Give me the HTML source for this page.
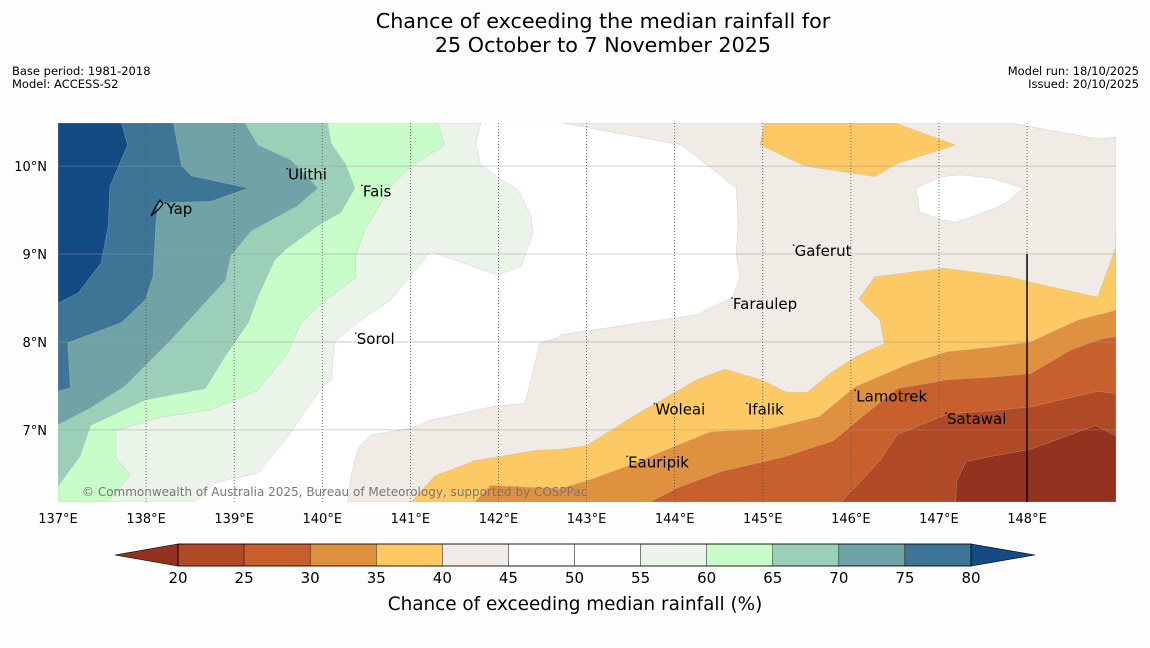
<!DOCTYPE html>
<html><head><meta charset="utf-8"><style>
body{margin:0;background:#fdfdfd;font-family:"DejaVu Sans","Liberation Sans",sans-serif;}
svg text{font-family:"DejaVu Sans","Liberation Sans",sans-serif;}
</style></head><body>
<svg id="chart" width="1150" height="644" viewBox="0 0 1150 644" xmlns="http://www.w3.org/2000/svg">
<rect x="0" y="0" width="1150" height="644" fill="#fdfdfd"/>
<text x="603" y="28" font-size="20.7" text-anchor="middle" fill="#000">Chance of exceeding the median rainfall for</text>
<text x="603" y="52" font-size="20.7" text-anchor="middle" fill="#000">25 October to 7 November 2025</text>
<text x="12" y="75" font-size="11.5">Base period: 1981-2018</text>
<text x="12" y="88" font-size="11.5">Model: ACCESS-S2</text>
<text x="1139" y="75" font-size="11.5" text-anchor="end">Model run: 18/10/2025</text>
<text x="1139" y="88" font-size="11.5" text-anchor="end">Issued: 20/10/2025</text>
<defs><clipPath id="plotclip"><rect x="58" y="123" width="1058" height="379"/></clipPath></defs>
<g id="map" clip-path="url(#plotclip)">
<rect x="58" y="123" width="1058" height="379" fill="#ffffff"/>
</g>
<g id="overlay"></g>
<g id="cbar"></g>
<text x="575" y="610" font-size="18.4" text-anchor="middle">Chance of exceeding median rainfall (%)</text>
</svg>
<script>
// Map extent (degrees)
const lonRange = [137, 149.01];
const latRange = [6.18, 10.49];
const lonTicks = [137,138,139,140,141,142,143,144,145,146,147,148];
const latTicks = [7,8,9,10];
// Contour regions (lon, lat pairs) and their category
const regionLevels = ["55-60","60-65","65-70","70-75","75-80",">80","40-45","45-50","35-40","35-40","30-35","25-30","20-25","<20"];
const regionColors = ["#eaf4e9","#c8fcc8","#9ccfb8","#6fa3a6","#3d7597","#134b85","#f0ebe5","#ffffff","#fdc964","#fdc964","#e0913f","#c8602e","#b04a26","#943220"];
const region55 = [[141.80,10.49],[141.74,10.26],[141.80,10.0],[142.22,9.73],[142.37,9.43],[142.39,9.24],[142.26,8.86],[141.99,8.76],[141.23,9.03],[140.78,8.48],[140.52,8.31],[140.14,8.01],[140.10,7.57],[139.99,7.48],[139.64,6.97],[139.27,6.51],[138.78,6.40],[138.56,6.18],[137,6.18],[137,10.49]];
const region60 = [[141.31,10.49],[141.39,10.24],[141.01,10.0],[140.78,9.77],[140.48,9.27],[140.38,8.98],[140.38,8.73],[139.99,8.44],[139.76,8.22],[139.61,7.88],[139.27,7.45],[138.74,7.23],[138.14,7.14],[137.65,6.99],[137.65,6.70],[137.82,6.49],[137.57,6.18],[137,6.18],[137,10.49]];
const region65 = [[140.06,10.49],[140.10,10.26],[140.26,10.03],[140.37,9.75],[140.21,9.47],[139.99,9.35],[139.58,9.05],[139.46,8.93],[139.27,8.52],[139.16,8.22],[138.90,7.84],[138.67,7.47],[137.99,7.34],[137.37,7.05],[137.25,6.70],[137,6.36],[137,10.49]];
const region70 = [[139.12,10.49],[139.27,10.24],[139.64,10.07],[139.95,9.75],[139.72,9.55],[139.19,9.26],[138.96,8.98],[138.90,8.70],[138.59,8.36],[138.25,7.99],[137.76,7.50],[137.37,7.25],[137,7.06],[137,10.49]];
const region75 = [[138.31,10.49],[138.40,10.01],[138.51,9.89],[139.16,9.75],[138.74,9.60],[138.14,9.58],[138.11,9.35],[138.08,8.75],[137.99,8.48],[137.72,8.22],[137.11,7.99],[137.14,7.48],[137,7.44],[137,10.49]];
const region80 = [[137.72,10.49],[137.79,10.24],[137.59,9.77],[137.57,9.32],[137.49,8.90],[137.23,8.56],[137,8.44],[137,10.49]];
const region45 = [[142.73,10.49],[144.08,10.24],[144.70,9.75],[144.72,9.35],[144.70,8.99],[144.74,8.74],[144.66,8.51],[144.25,8.31],[142.70,8.08],[142.68,8.05],[142.47,7.99],[142.37,7.57],[142.30,7.30],[141.96,7.27],[141.23,7.11],[141.01,7.02],[140.55,6.94],[140.41,6.80],[140.33,6.49],[140.29,6.18],[149.01,6.18],[149.01,10.33],[148.80,10.31],[147.81,10.49]];
const region45w = [[146.74,9.75],[147.02,9.88],[147.27,9.90],[147.60,9.86],[147.96,9.75],[147.76,9.58],[147.51,9.47],[147.19,9.36],[147.02,9.39],[146.78,9.48]];
const region40a = [[145.02,10.49],[144.97,10.24],[145.48,10.0],[146.27,9.88],[146.53,10.03],[147.19,10.24],[146.50,10.49]];
const region40b = [[149.01,9.27],[149.01,9.08],[148.80,8.51],[148.04,8.68],[147.81,8.74],[147.05,8.84],[146.27,8.74],[146.09,8.49],[146.33,8.25],[146.38,7.98],[146.05,7.83],[145.76,7.64],[145.51,7.43],[145.27,7.43],[144.98,7.57],[144.57,7.69],[144.25,7.57],[143.52,7.15],[143.00,6.82],[142.70,6.78],[142.45,6.77],[141.73,6.65],[141.28,6.48],[141.01,6.18],[149.01,6.18]];
const region35 = [[149.01,8.36],[148.58,8.25],[148.04,8.0],[147.60,7.94],[147.10,7.89],[146.66,7.75],[146.05,7.49],[145.64,7.15],[145.07,7.01],[144.41,6.98],[143.92,6.78],[143.52,6.61],[143.06,6.44],[142.70,6.33],[141.91,6.37],[141.73,6.18],[149.01,6.18]];
const region30 = [[149.01,8.06],[148.83,8.03],[148.50,7.91],[148.04,7.64],[147.60,7.60],[147.10,7.57],[146.53,7.47],[146.13,7.15],[145.80,6.875],[145.23,6.69],[144.54,6.53],[144.05,6.35],[143.72,6.18],[149.01,6.18]];
const region25 = [[149.01,7.41],[148.80,7.44],[148.04,7.26],[147.60,7.22],[147.10,7.18],[146.53,6.95],[146.33,6.65],[146.09,6.39],[145.89,6.18],[149.01,6.18]];
const region20 = [[149.01,6.93],[148.78,7.05],[148.12,6.81],[148.04,6.78],[147.60,6.70],[147.31,6.64],[147.20,6.42],[147.19,6.18],[149.01,6.18]];
const regions = [region55,region60,region65,region70,region75,region80,region45,region45w,region40a,region40b,region35,region30,region25,region20];
// Places
const placeNames = ["Ulithi","Fais","Yap","Gaferut","Faraulep","Sorol","Woleai","Ifalik","Lamotrek","Satawal","Eauripik"];
const placeLons = [139.6,140.45,138.22,145.35,144.65,140.38,143.77,144.82,146.05,147.08,143.46];
const placeLats = [9.97,9.78,9.58,9.1,8.5,8.1,7.3,7.3,7.45,7.19,6.7];
// Colorbar
const cbarTicks = [20,25,30,35,40,45,50,55,60,65,70,75,80];
const cbarColors = ["#b04a26","#c8602e","#e0913f","#fdc964","#f0ebe5","#ffffff","#ffffff","#eaf4e9","#c8fcc8","#9ccfb8","#6fa3a6","#3d7597"];

const NS="http://www.w3.org/2000/svg";
const X0=58,X1=1116,Y0=123,Y1=502;
function xS(lon){return X0+(lon-lonRange[0])/(lonRange[1]-lonRange[0])*(X1-X0);}
function yS(lat){return Y1-(lat-latRange[0])/(latRange[1]-latRange[0])*(Y1-Y0);}
function mk(tag,parent){const e=document.createElementNS(NS,tag);parent.appendChild(e);return e;}
const map=document.getElementById('map');
regions.forEach((r,i)=>{
  const p=mk('polygon',map);
  p.setAttribute('points',r.map(d=>xS(d[0]).toFixed(1)+','+yS(d[1]).toFixed(1)).join(' '));
  p.setAttribute('fill',regionColors[i]);
  p.setAttribute('stroke','#b8b8b8');
  p.setAttribute('stroke-width','0.5');
  p.setAttribute('stroke-opacity','0.6');
  
  
});
const ov=document.getElementById('overlay');
latTicks.forEach(v=>{
  const l=mk('line',ov);
  l.setAttribute('x1',X0);l.setAttribute('x2',X1);l.setAttribute('y1',yS(v));l.setAttribute('y2',yS(v));
  l.setAttribute('stroke','#999');l.setAttribute('stroke-width','0.8');l.setAttribute('stroke-opacity','0.6');
  
  
  const t=mk('text',ov);
  t.setAttribute('x',47);t.setAttribute('y',yS(v)+5);t.setAttribute('font-size','13');t.setAttribute('text-anchor','end');
  t.textContent=v+'°N';
  
  
});
lonTicks.forEach(v=>{
  if(v>lonRange[0]){
  const l=mk('line',ov);
  l.setAttribute('x1',xS(v));l.setAttribute('x2',xS(v));l.setAttribute('y1',Y0);l.setAttribute('y2',Y1);
  l.setAttribute('stroke','#555');l.setAttribute('stroke-width','0.8');l.setAttribute('stroke-dasharray','1,2');
  
  
  }
  const t=mk('text',ov);
  t.setAttribute('x',xS(v));t.setAttribute('y',523);t.setAttribute('font-size','13');t.setAttribute('text-anchor','middle');
  t.textContent=v+'°E';
  
  
});
const bl=mk('line',ov);
bl.setAttribute('x1',xS(148));bl.setAttribute('x2',xS(148));bl.setAttribute('y1',yS(9));bl.setAttribute('y2',Y1);
bl.setAttribute('stroke','#111');bl.setAttribute('stroke-width','1.6');


placeNames.forEach((n,i)=>{
  const d=mk('circle',ov);
  d.setAttribute('cx',xS(placeLons[i]));d.setAttribute('cy',yS(placeLats[i]));d.setAttribute('r','0.8');d.setAttribute('fill','#000');
  
  
  const t=mk('text',ov);
  t.setAttribute('x',xS(placeLons[i])+1);t.setAttribute('y',yS(placeLats[i])+11);t.setAttribute('font-size','15');
  t.textContent=n;
  
  
});
const yap=mk('path',ov);
yap.setAttribute('d','M151,216 L156,206 L160,200 L163,204 L159,209 Z');
yap.setAttribute('fill','none');yap.setAttribute('stroke','#000');yap.setAttribute('stroke-width','1.2');


const cp=mk('text',ov);
cp.setAttribute('x',82);cp.setAttribute('y',496);cp.setAttribute('font-size','12');cp.setAttribute('fill','#777');
cp.textContent='© Commonwealth of Australia 2025, Bureau of Meteorology, supported by COSPPac';


// colorbar
const cb=document.getElementById('cbar');
const C0=178,C1=971,CY0=544,CY1=566;
function cx(v){return C0+(v-cbarTicks[0])/(cbarTicks[cbarTicks.length-1]-cbarTicks[0])*(C1-C0);}
const lt=mk('polygon',cb);
lt.setAttribute('points',`115,555 ${C0},${CY0} ${C0},${CY1}`);lt.setAttribute('fill','#943220');lt.setAttribute('stroke','#000');lt.setAttribute('stroke-width','0.6');


const rt=mk('polygon',cb);
rt.setAttribute('points',`1035,555 ${C1},${CY0} ${C1},${CY1}`);rt.setAttribute('fill','#134b85');rt.setAttribute('stroke','#000');rt.setAttribute('stroke-width','0.6');


cbarColors.forEach((c,i)=>{
  const r=mk('rect',cb);
  r.setAttribute('x',cx(cbarTicks[i]));r.setAttribute('y',CY0);r.setAttribute('width',cx(cbarTicks[i+1])-cx(cbarTicks[i]));r.setAttribute('height',CY1-CY0);
  r.setAttribute('fill',c);r.setAttribute('stroke','#000');r.setAttribute('stroke-width','0.4');
  
  
});
const fr=mk('rect',cb);
fr.setAttribute('x',C0);fr.setAttribute('y',CY0);fr.setAttribute('width',C1-C0);fr.setAttribute('height',CY1-CY0);fr.setAttribute('fill','none');fr.setAttribute('stroke','#000');fr.setAttribute('stroke-width','0.8');


cbarTicks.forEach(v=>{
  const t=mk('text',cb);
  t.setAttribute('x',cx(v));t.setAttribute('y',583);t.setAttribute('font-size','15');t.setAttribute('text-anchor','middle');
  t.textContent=v;
  
  
});
</script>
</body></html>
